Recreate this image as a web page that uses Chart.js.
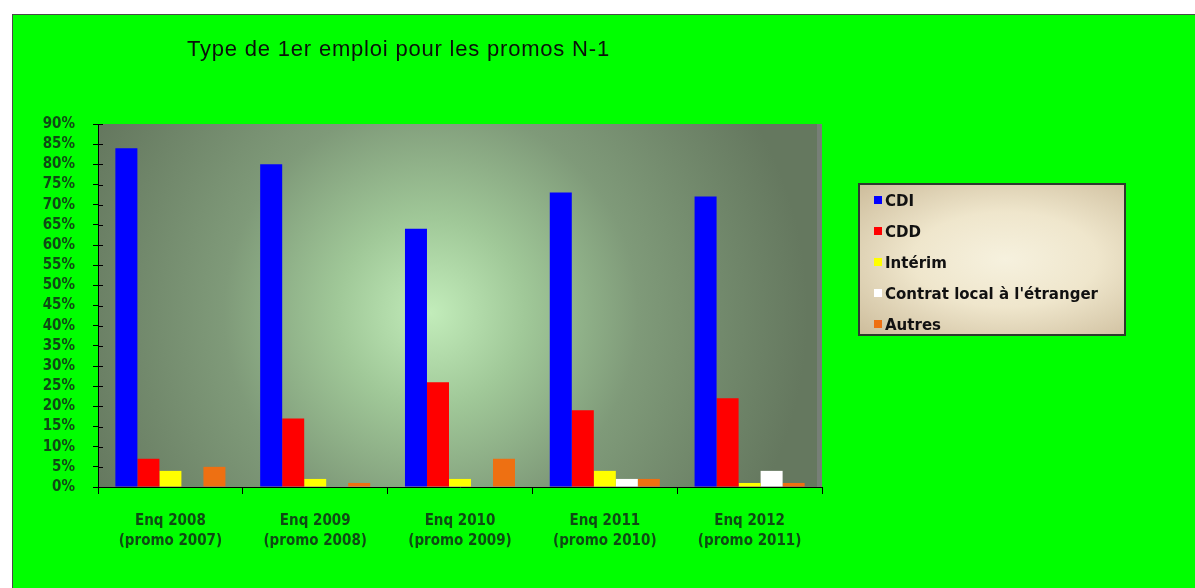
<!DOCTYPE html>
<html>
<head>
<meta charset="utf-8">
<script src="https://cdn.jsdelivr.net/npm/chart.js@4/dist/chart.umd.min.js"></script>
<style>
  html, body { margin:0; padding:0; width:1195px; height:588px; overflow:hidden; background:#ffffff; }
  #frame { position:absolute; left:12px; top:14px; width:1200px; height:600px; background:#00ff00; border:1px solid #4a4a4a; box-sizing:border-box; }
  #c { position:absolute; left:0; top:0; }
  #title { position:absolute; left:187px; top:36px; font-family:"Liberation Sans", Arial, sans-serif; font-size:22px; letter-spacing:0.8px; color:#0a100a; white-space:nowrap; }
  #legend { position:absolute; left:858px; top:183px; width:268px; height:153px; box-sizing:border-box; border:2px solid #2e3a2e;
            background: radial-gradient(ellipse at 55% 50%, #f6f1de 0%, #efe6cc 45%, #cdbd9c 100%); }
  .li { position:absolute; left:14px; font-family:"DejaVu Sans Condensed", "Liberation Sans Narrow", sans-serif; font-weight:bold; font-size:16.7px; color:#111; white-space:nowrap; line-height:18px; }
  .sw { display:inline-block; width:8px; height:8px; margin-right:3px; vertical-align:2px; }
</style>
</head>
<body>
<div id="frame"></div>
<canvas id="c" width="1195" height="588"></canvas>
<div id="title">Type de 1er emploi pour les promos N-1</div>
<div id="legend"></div>
<script>
const categories = [["Enq 2008","(promo 2007)"],["Enq 2009","(promo 2008)"],["Enq 2010","(promo 2009)"],["Enq 2011","(promo 2010)"],["Enq 2012","(promo 2011)"]];
const seriesNames = ["CDI","CDD","Intérim","Contrat local à l'étranger","Autres"];
const cdi     = [84, 80, 64, 73, 72];
const cdd     = [7, 17, 26, 19, 22];
const interim = [4, 2, 2, 4, 1];
const contrat = [0, 0, 0, 2, 4];
const autres  = [5, 1, 7, 2, 1];
const colors  = ["#0000ff","#ff0000","#ffff00","#ffffff","#ee7012"];
const yTicks  = {min:0, max:90, step:5};

const seriesValues = [cdi, cdd, interim, contrat, autres];
const tickFamily = '"DejaVu Sans Condensed", "Liberation Sans Narrow", sans-serif';

// legend
const leg = document.getElementById('legend');
seriesNames.forEach((n,i)=>{
  const d = document.createElement('div');
  d.className='li';
  d.style.top = (6 + i*31) + 'px';
  const s = document.createElement('span'); s.className='sw'; s.style.background=colors[i];
  d.appendChild(s); d.appendChild(document.createTextNode(n));
  leg.appendChild(d);
});

const bgPlugin = {
  id:'bg',
  beforeDraw(chart){
    const a = chart.chartArea, ctx = chart.ctx;
    ctx.save();
    const cx = a.left + (a.right-a.left)*0.46, cy = a.top + (a.bottom-a.top)*0.52;
    const g = ctx.createRadialGradient(cx, cy, 0, cx, cy, (a.right-a.left)*0.52);
    g.addColorStop(0, '#c2ecba');
    g.addColorStop(0.25, '#a0c898');
    g.addColorStop(0.55, '#7f9a79');
    g.addColorStop(1, '#65785f');
    ctx.fillStyle = g;
    ctx.fillRect(a.left, a.top, a.right-a.left, a.bottom-a.top);
    ctx.fillStyle = '#777f77';
    ctx.fillRect(a.right-5, a.top, 5, a.bottom-a.top);
    ctx.restore();
  },
  afterDraw(chart){
    const y = chart.scales.y, ctx = chart.ctx;
    ctx.save();
    ctx.strokeStyle = '#000'; ctx.lineWidth = 1;
    y.ticks.forEach(t=>{
      const py = Math.round(y.getPixelForValue(t.value)) + 0.5;
      ctx.beginPath(); ctx.moveTo(y.right, py); ctx.lineTo(y.right+5, py); ctx.stroke();
    });
    ctx.restore();
  }
};

new Chart(document.getElementById('c'), {
  type:'bar',
  data:{
    labels: categories,
    datasets: seriesNames.map((n,i)=>({label:n, data:seriesValues[i], backgroundColor:colors[i], borderWidth:0,
      categoryPercentage:0.76, barPercentage:1.0}))
  },
  options:{
    responsive:false, animation:false,
    layout:{padding:{left:0, top:124, right:373, bottom:21}},
    plugins:{legend:{display:false}, title:{display:false}, tooltip:{enabled:false}},
    scales:{
      x:{
        afterFit(s){ s.height = 80; },
        grid:{display:true, drawOnChartArea:false, offset:true, color:'#000', tickLength:7},
        border:{display:true, color:'#000', width:1},
        ticks:{color:'#0f4a14', padding:17, maxRotation:0, font:{family:tickFamily, weight:'bold', size:15, lineHeight:1.35}}
      },
      y:{
        min:yTicks.min, max:yTicks.max,
        afterFit(s){ s.width = 98; },
        grid:{display:true, drawOnChartArea:false, color:'#000', tickLength:5},
        border:{display:true, color:'#000', width:1},
        ticks:{stepSize:yTicks.step, autoSkip:false, color:'#0f4a14', padding:18, callback:v=>v+'%',
               font:{family:tickFamily, weight:'bold', size:15}}
      }
    }
  },
  plugins:[bgPlugin]
});
</script>
</body>
</html>
